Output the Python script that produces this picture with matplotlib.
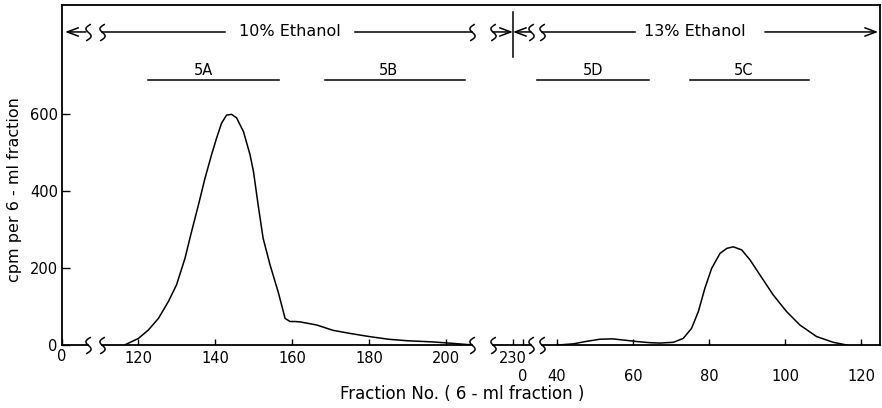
import numpy as np
import matplotlib
matplotlib.use('Agg')
import matplotlib.pyplot as plt
from matplotlib.path import Path

# 10% ethanol elution (fraction numbers 116-207)
frac_10 = [116.5, 120.1, 122.7, 125.3, 127.9, 130.0, 132.2, 133.9, 135.7, 137.4,
           139.1, 140.4, 141.7, 143.0, 144.3, 145.6, 147.4, 149.1, 150.0, 151.2,
           152.5, 154.3, 156.4, 157.3, 158.2, 159.5, 160.8, 162.1, 166.4, 170.7,
           175.1, 180, 185, 190, 196.6, 202, 207]
cpm_10 = [0, 17, 39, 69, 113, 156, 225, 294, 364, 433,
          494, 537, 576, 597, 599, 590, 554, 494, 450, 364,
          277, 208, 138, 104, 69, 61, 61, 60, 52, 38,
          30, 22, 15, 11, 8, 4, 0]

# 13% ethanol elution (fraction numbers restart at 0)
frac_13 = [40.3, 44.3, 47.5, 51.3, 54.5, 57.4, 61, 64.5, 67.1, 70.6, 73.2,
           75.4, 77.2, 78.9, 80.7, 82.9, 84.7, 86.4, 88.6, 90.8, 93.4, 96.9,
           100.4, 103.9, 108.3, 112.7, 116.2]
cpm_13 = [0, 3, 9, 15, 16, 13, 9, 6, 5, 7, 17,
          43, 87, 147, 199, 238, 251, 255, 247, 221, 182, 130,
          87, 52, 22, 7, 0]

# pooled fractions
pools_10 = ['5A', '5B']
pools_10_range = [(122.5, 156.5), (168.5, 205)]
pools_10_labelx = [137, 185]
pools_13 = ['5D', '5C']
pools_13_range = [(34.7, 64.2), (75, 106.3)]
pools_13_labelx = [49.5, 89]

yticks = [0, 200, 400, 600]
ticks_10 = [120, 140, 160, 180, 200]
ticks_13 = [40, 60, 80, 100, 120]

W, H = 882.0, 408.0
Y0, Y1 = 345, 5          # pixel rows of the baseline and the top of the box
YMAX = 883
Y_ETH = 813              # ethanol arrows
Y_POOL = 688             # pool bars
LW = 1.1
FS = 10.5
FS_BIG = 11.5

plt.rcParams['font.family'] = ['DejaVu Sans']


def box(x0, x1):
    return [x0 / W, 1 - Y0 / H, (x1 - x0) / W, (Y0 - Y1) / H]


# S shaped break mark used as a marker
t = np.linspace(-1, 1, 40)
brk = Path(np.column_stack([-0.22 * np.sin(np.pi * t) + 0.14 * t, 0.5 * t]))

fig = plt.figure(figsize=(W / 100, H / 100), dpi=100)

# outer frame with the y axis
frame = fig.add_axes(box(62, 880))
frame.set_xlim(0, 1)
frame.set_ylim(0, YMAX)
frame.spines['bottom'].set_visible(False)
for s in ['left', 'top', 'right']:
    frame.spines[s].set_linewidth(1.3)
frame.set_xticks([])
frame.set_yticks(yticks)
frame.tick_params(axis='y', direction='in', length=6, width=1, pad=3, labelsize=FS)


def segment(x0, x1, xlim, ticks, labels, pad):
    ax = fig.add_axes(box(x0, x1), facecolor='none')
    ax.set_xlim(*xlim)
    ax.set_ylim(0, YMAX)
    for s in ['left', 'top', 'right']:
        ax.spines[s].set_visible(False)
    ax.spines['bottom'].set_linewidth(1.3)
    ax.set_yticks([])
    ax.set_xticks(ticks, labels=labels)
    ax.tick_params(axis='x', direction='in', length=4, width=1, pad=pad, labelsize=FS)
    return ax


ax0 = segment(62, 88, (0, 6.75), [0], ['0'], 3)
ax1 = segment(102, 472, (110.65, 206.75), ticks_10, [str(v) for v in ticks_10], 4)
ax2 = segment(493, 531, (224.8, 234.7), [230], ['230'], 4)
ax2.set_xticks([232.6], labels=['0'], minor=True)
ax2.tick_params(axis='x', which='minor', direction='in', length=4, width=1, pad=17, labelsize=FS)
ax3 = segment(542, 880, (36.05, 125.0), ticks_13, [str(v) for v in ticks_13], 17)

ax1.plot(frac_10, cpm_10, color='black', lw=LW, solid_joinstyle='round')
ax3.plot(frac_13, cpm_13, color='black', lw=LW, solid_joinstyle='round')

# break marks on the baseline and on the ethanol line
for ax, side in [(ax0, 1), (ax1, 0), (ax1, 1), (ax2, 0), (ax2, 1), (ax3, 0)]:
    for yy in [0, Y_ETH]:
        ax.plot([ax.get_xlim()[side]], [yy], marker=brk, markersize=12, mfc='none',
                mec='black', mew=LW, clip_on=False, zorder=5)

line_kw = dict(color='black', lw=LW, clip_on=False)
arrow_l = dict(arrowstyle='->,head_length=0.8,head_width=0.3', lw=LW, color='black',
               shrinkA=0, shrinkB=0)

# 10% ethanol arrow
ax0.annotate('', xy=(0.8, Y_ETH), xytext=(6.2, Y_ETH), arrowprops=arrow_l,
             annotation_clip=False)
ax1.plot([110.65, 142.6], [Y_ETH, Y_ETH], **line_kw)
ax1.plot([176.4, 206.75], [Y_ETH, Y_ETH], **line_kw)
ax1.text(159.5, Y_ETH, '10% Ethanol', ha='center', va='center', fontsize=FS_BIG)
ax2.annotate('', xy=(230, Y_ETH), xytext=(224.8, Y_ETH), arrowprops=arrow_l,
             annotation_clip=False)
ax2.plot([230, 230], [748, 865], **line_kw)

# 13% ethanol arrow
ax2.annotate('', xy=(230, Y_ETH), xytext=(234.7, Y_ETH), arrowprops=arrow_l,
             annotation_clip=False)
ax3.plot([36.05, 60.5], [Y_ETH, Y_ETH], **line_kw)
ax3.text(76.3, Y_ETH, '13% Ethanol', ha='center', va='center', fontsize=FS_BIG)
ax3.annotate('', xy=(124.5, Y_ETH), xytext=(94.7, Y_ETH), arrowprops=arrow_l,
             annotation_clip=False)

# pooled fraction bars
for ax, names, ranges, lx in [(ax1, pools_10, pools_10_range, pools_10_labelx),
                              (ax3, pools_13, pools_13_range, pools_13_labelx)]:
    for name, (a, b), x in zip(names, ranges, lx):
        ax.plot([a, b], [Y_POOL, Y_POOL], **line_kw)
        ax.text(x, 701, name, ha='center', va='baseline', fontsize=FS)

fig.text(15 / W, 1 - 190 / H, 'cpm per 6 - ml fraction', rotation=90,
         ha='center', va='center', fontsize=FS_BIG)
fig.text(462 / W, 1 - 394 / H, 'Fraction No. ( 6 - ml fraction )',
         ha='center', va='center', fontsize=FS_BIG + 0.5)

fig.savefig('out.png', dpi=100)
